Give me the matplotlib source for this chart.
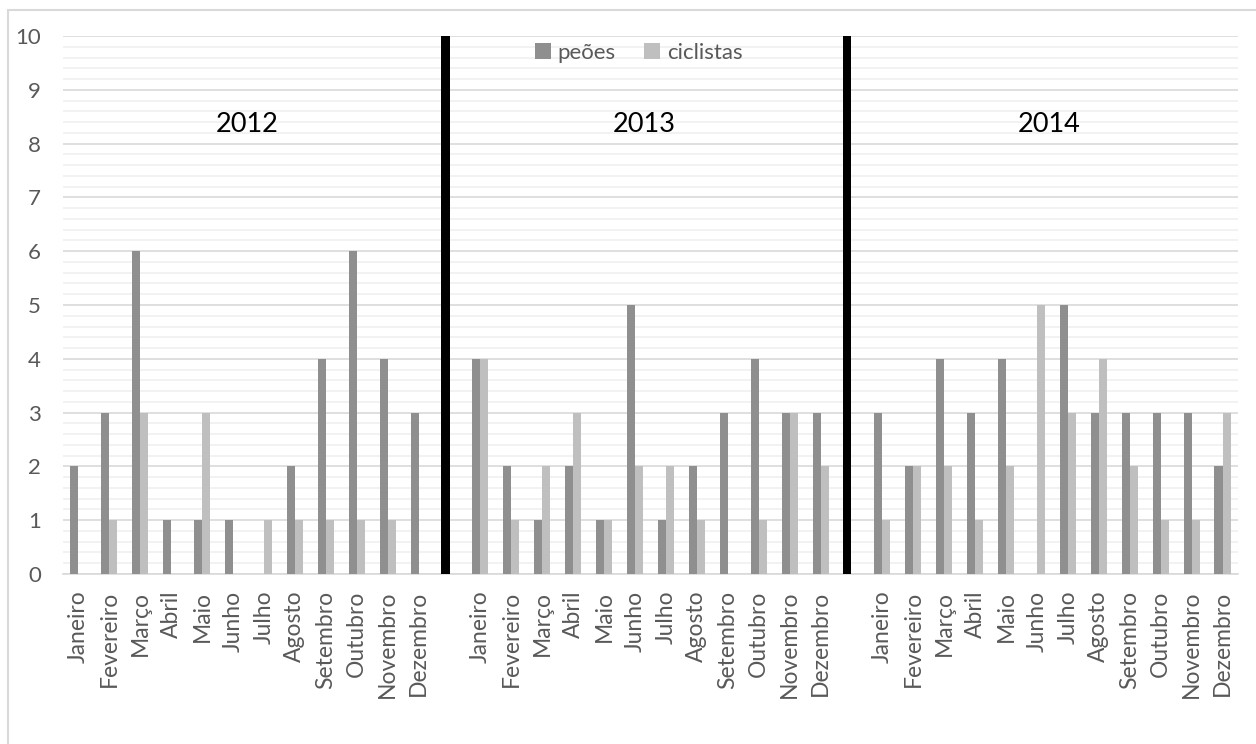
import matplotlib.pyplot as plt
import matplotlib.patches as mpatches
import numpy as np

plt.rcParams['font.family'] = ['Lato', 'DejaVu Sans']

# ─── Data ─────────────────────────────────────────────────────────────────────
months = ["Janeiro", "Fevereiro", "Março", "Abril", "Maio", "Junho",
          "Julho", "Agosto", "Setembro", "Outubro", "Novembro", "Dezembro"]
years = ["2012", "2013", "2014"]

peoes_2012 = [2, 3, 6, 1, 1, 1, 0, 2, 4, 6, 4, 3]
cicl_2012 = [0, 1, 3, 0, 3, 0, 1, 1, 1, 1, 1, 0]
peoes_2013 = [4, 2, 1, 2, 1, 5, 1, 2, 3, 4, 3, 3]
cicl_2013 = [4, 1, 2, 3, 1, 2, 2, 1, 0, 1, 3, 2]
peoes_2014 = [3, 2, 4, 3, 4, 0, 5, 3, 3, 3, 3, 2]
cicl_2014 = [1, 2, 2, 1, 2, 5, 3, 4, 2, 1, 1, 3]

separator_value = 10

# ─── Layout of categories (12 months, empty slot, 12 months, empty slot, ...) ─
peoes = peoes_2012 + [0] + peoes_2013 + [0] + peoes_2014
cicl = cicl_2012 + [0] + cicl_2013 + [0] + cicl_2014
labels = months + [""] + months + [""] + months
x = np.arange(len(labels))
gap_idx = [12, 25]

C_PEOES = "#8f8f8f"
C_CICL = "#bfbfbf"
C_TEXT = "#595959"

fig = plt.figure(figsize=(12.56, 7.44), dpi=100)
ax = fig.add_axes([63 / 1256, 1 - 574 / 744, (1238 - 63) / 1256, (574 - 36) / 744])

# outer chart border
fig.patches.append(mpatches.Rectangle((8 / 1256, -0.05), 1.2, 1 - 10 / 744 + 0.05,
                                      transform=fig.transFigure, fill=False,
                                      edgecolor="#d9d9d9", linewidth=1.5))

w = 0.26
ax.bar(x - w / 2, peoes, w, color=C_PEOES, label="peões", zorder=3)
ax.bar(x + w / 2, cicl, w, color=C_CICL, label="ciclistas", zorder=3)
ax.bar(np.array(gap_idx) - w / 2, [separator_value] * len(gap_idx), w,
       color="black", zorder=4)

ax.set_xlim(-0.5, len(labels) - 0.5)
ax.set_ylim(0, 10)
ax.set_yticks(range(0, 11))
ax.set_yticks(np.arange(0, 10.01, 0.2), minor=True)
ax.grid(axis="y", which="major", color="#d9d9d9", linewidth=1.2, zorder=0)
ax.grid(axis="y", which="minor", color="#f0f0f0", linewidth=1.2, zorder=0)
ax.tick_params(axis="y", which="both", length=0, labelsize=16,
               labelcolor=C_TEXT, pad=16)
ax.set_xticks(x)
ax.set_xticklabels(labels, rotation=90, fontsize=16.5, color=C_TEXT)
ax.tick_params(axis="x", length=0, pad=12)
for s in ["top", "right", "left"]:
    ax.spines[s].set_visible(False)
ax.spines["bottom"].set_color("#d9d9d9")
ax.spines["bottom"].set_linewidth(1.2)

# year labels
year_pos = [5.45, 18.3, 31.4]
for yr, xp in zip(years, year_pos):
    ax.text(xp, 8.35, yr, ha="center", va="center", fontsize=19.5, color="black")

leg = ax.legend(loc="upper center", bbox_to_anchor=(0.49, 1.025), ncol=2,
                frameon=False, fontsize=16, handlelength=0.7,
                handleheight=0.7, handletextpad=0.3, columnspacing=1.3)
for t in leg.get_texts():
    t.set_color(C_TEXT)

fig.savefig("out.png", dpi=100)
